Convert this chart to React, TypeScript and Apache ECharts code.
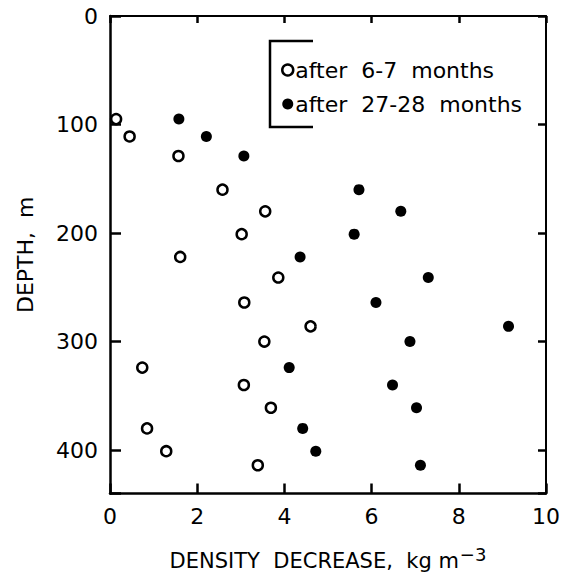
import React, { useEffect, useRef } from "react";
import * as echarts from "echarts";

const depths = [95, 111, 129, 160, 180, 201, 222, 241, 264, 286, 300, 324, 340, 361, 380, 401, 414];
const early = [0.14, 0.45, 1.57, 2.58, 3.56, 3.02, 1.61, 3.86, 3.08, 4.6, 3.54, 0.74, 3.07, 3.69, 0.85, 1.29, 3.39];
const late = [1.58, 2.21, 3.07, 5.71, 6.67, 5.6, 4.36, 7.3, 6.1, 9.14, 6.88, 4.11, 6.48, 7.03, 4.42, 4.72, 7.12];
const seriesNames = ["after  6-7  months", "after  27-28  months"];
const xTicks = [0, 2, 4, 6, 8, 10];
const yTicks = [0, 100, 200, 300, 400];

const FONT = "DejaVu Sans";

export default function App() {
  const ref = useRef<HTMLDivElement>(null);
  useEffect(() => {
    if (!ref.current) return;
    const chart = echarts.init(ref.current, undefined, { renderer: "svg" });
    const labelStyle = { color: "#000", fontFamily: FONT, fontSize: 22 };
    chart.setOption({
      animation: false,
      backgroundColor: "#fff",
      grid: { left: 110, top: 16, right: 17, bottom: 81, containLabel: false },
      xAxis: [
        {
          type: "value",
          position: "bottom",
          min: 0,
          max: 10,
          interval: 2,
          axisLine: { show: true, onZero: false, lineStyle: { color: "#000", width: 2.5 } },
          axisTick: { show: true, inside: true, length: 10, lineStyle: { color: "#000", width: 2.5 } },
          axisLabel: {
            ...labelStyle,
            margin: 12,
            formatter: (v: number) => (xTicks.includes(v) ? String(v) : ""),
          },
          splitLine: { show: false },
          name: "DENSITY  DECREASE,  kg m{sup|−3}",
          nameLocation: "middle",
          nameGap: 52,
          nameTextStyle: {
            color: "#000",
            fontFamily: FONT,
            fontSize: 21,
            rich: {
              sup: { fontFamily: FONT, fontSize: 18, color: "#000", verticalAlign: "top", padding: [0, 0, 12, 1] },
            },
          },
        },
        {
          type: "value",
          position: "top",
          min: 0,
          max: 10,
          interval: 2,
          axisLine: { show: true, onZero: false, lineStyle: { color: "#000", width: 2 } },
          axisTick: { show: true, inside: true, length: 7, lineStyle: { color: "#000", width: 2.5 } },
          axisLabel: { show: false },
          splitLine: { show: false },
        },
      ],
      yAxis: [
        {
          type: "value",
          position: "left",
          inverse: true,
          min: 0,
          max: 440,
          interval: 100,
          axisLine: { show: true, onZero: false, lineStyle: { color: "#000", width: 2.5 } },
          axisTick: { show: true, inside: true, length: 11, lineStyle: { color: "#000", width: 2.5 } },
          axisLabel: {
            ...labelStyle,
            margin: 12,
            formatter: (v: number) => (yTicks.includes(v) ? String(v) : ""),
          },
          splitLine: { show: false },
          name: "DEPTH,  m",
          nameLocation: "middle",
          nameGap: 74,
          nameRotate: 90,
          nameTextStyle: { color: "#000", fontFamily: FONT, fontSize: 22 },
        },
        {
          type: "value",
          position: "right",
          inverse: true,
          min: 0,
          max: 440,
          interval: 100,
          axisLine: { show: true, onZero: false, lineStyle: { color: "#000", width: 2 } },
          axisTick: { show: true, inside: true, length: 8, lineStyle: { color: "#000", width: 2.5 } },
          axisLabel: { show: false },
          splitLine: { show: false },
        },
      ],
      legend: {
        orient: "vertical",
        left: 276,
        top: 54,
        itemWidth: 11,
        itemHeight: 11,
        itemGap: 12,
        data: [
          { name: seriesNames[0], itemStyle: { color: "#fff", borderColor: "#000", borderWidth: 2.5, opacity: 1 } },
          { name: seriesNames[1], itemStyle: { color: "#000", opacity: 1 } },
        ],
        textStyle: { color: "#000", fontFamily: FONT, fontSize: 22, lineHeight: 21, padding: [0, 0, 0, -3] },
      },
      graphic: [
        {
          type: "polyline",
          shape: { points: [[313, 41], [270, 41], [270, 127], [313, 127]] },
          style: { stroke: "#000", lineWidth: 2.5, fill: "none" },
        },
      ],
      series: [
        {
          name: seriesNames[0],
          type: "scatter",
          xAxisIndex: 0,
          yAxisIndex: 0,
          symbol: "circle",
          symbolSize: 10,
          itemStyle: { color: "#fff", borderColor: "#000", borderWidth: 2.5, opacity: 1 },
          data: early.map((x, i) => [x, depths[i]]),
        },
        {
          name: seriesNames[1],
          type: "scatter",
          xAxisIndex: 0,
          yAxisIndex: 0,
          symbol: "circle",
          symbolSize: 11,
          itemStyle: { color: "#000", opacity: 1 },
          data: late.map((x, i) => [x, depths[i]]),
        },
      ],
    });
    return () => chart.dispose();
  }, []);
  return <div ref={ref} style={{ width: 563, height: 576, position: "absolute", left: 0, top: 0 }} />;
}
